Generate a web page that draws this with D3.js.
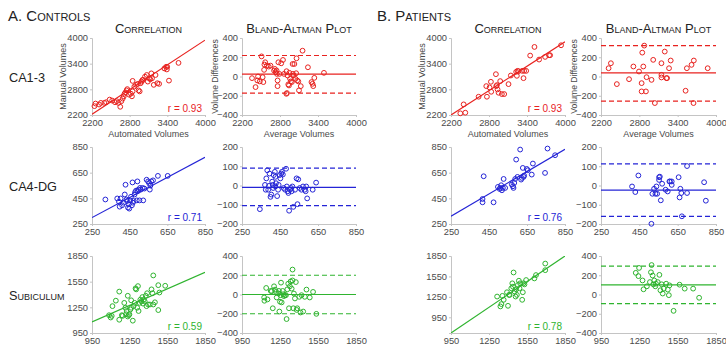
<!DOCTYPE html>
<html>
<head>
<meta charset="utf-8">
<script src="https://cdn.jsdelivr.net/npm/d3@7"></script>
<style>
  body { margin: 0; background: #fff; }
  svg { font-family: "Liberation Sans", Arial, sans-serif; }
  .tick text { fill: #4a4a4a; font-size: 9.3px; }
  .domain, .tick line { stroke: #c4c4c4; }
</style>
</head>
<body>
<svg id="chart" width="726" height="346"></svg>
<script>
// --- data ---
const groups = ['A. Controls', 'B. Patients'];
const regions = ['CA1-3', 'CA4-DG', 'Subiculum'];
const corrTicks = [[2200, 2800, 3400, 4000], [250, 450, 650, 850], [950, 1250, 1550, 1850]];
const baTicks = [[-400, -200, 0, 200, 400], [-200, -100, 0, 100, 200], [-400, -200, 0, 200, 400]];
const rValues = [[0.93, 0.93], [0.71, 0.76], [0.59, 0.78]];
// fitted line end points [x0, y0, x1, y1]
const fitLines = [
  [[2200, 2220, 4000, 3950], [2200, 2200, 4000, 3910]],
  [[250, 300, 850, 770], [250, 310, 850, 832]],
  [[950, 1080, 1850, 1660], [950, 720, 1850, 1850]]
];
const baMean = [[25, 38], [-10, -24], [0, 100]];
const baUpper = [[218, 320], [90, 112], [200, 295]];
const baLower = [[-172, -255], [-105, -160], [-200, -95]];

const ctrlCA13Corr = [[2239,2407],[2256,2468],[2312,2445],[2341,2483],[2397,2483],[2425,2499],[2481,2560],[2521,2537],[2566,2499],[2594,2522],[2622,2483],[2650,2392],[2667,2522],[2689,2583],[2706,2637],[2718,2698],[2734,2729],[2751,2775],[2762,2805],[2791,2675],[2819,2698],[2836,2637],[2847,2752],[2847,2997],[2875,2866],[2903,2905],[2931,2928],[2942,2775],[2959,2752],[2976,2943],[2987,2981],[3004,3020],[3016,3020],[3044,3096],[3072,3135],[3089,2981],[3111,3058],[3128,3035],[3145,3173],[3156,3058],[3184,2905],[3212,3135],[3241,2943],[3269,2928],[3353,3288],[3381,3326],[3392,3265],[3398,3326],[3426,3004],[3578,3418]];
const ctrlCA13BA = [[2358,-17],[2414,-110],[2442,-41],[2453,0],[2481,-51],[2509,209],[2526,-7],[2537,-58],[2549,69],[2554,124],[2566,148],[2594,113],[2622,103],[2650,113],[2706,62],[2718,79],[2734,45],[2746,62],[2751,27],[2762,-41],[2762,-100],[2774,148],[2791,27],[2819,137],[2847,172],[2864,27],[2903,55],[2920,10],[2931,-82],[2942,-93],[2948,38],[2959,-24],[2971,-51],[2987,-58],[2999,130],[3004,27],[3016,10],[3027,130],[3044,-24],[3055,34],[3061,189],[3072,-41],[3089,-51],[3100,-144],[3128,-100],[3156,268],[3241,96],[3297,-58],[3314,-76],[3325,-100],[3342,-14],[3494,38],[2900,-180],[2910,-172]];
const patCA13Corr = [[2347,2239],[2400,2448],[2426,2254],[2636,2627],[2767,2627],[2757,2875],[2809,2844],[2830,2976],[2835,2743],[2909,3154],[2914,2875],[2925,2898],[2935,2798],[2951,2720],[2977,2992],[3003,2689],[3040,2689],[3108,2922],[3145,3123],[3229,3209],[3240,3116],[3250,3232],[3266,3224],[3324,3232],[3345,3061],[3355,3232],[3387,3232],[3450,3589],[3518,3791],[3591,3496],[3686,3558],[3749,3597],[3765,3597],[3938,3830]];
const patCA13BA = [[2319,86],[2355,138],[2448,-79],[2639,-28],[2707,104],[2795,52],[2836,-155],[2836,-69],[2846,248],[2862,104],[2877,321],[2903,-155],[2913,-7],[2991,-35],[3017,173],[3043,-276],[3146,138],[3146,17],[3146,-10],[3198,259],[3224,-17],[3234,-17],[3265,86],[3291,166],[3524,-148],[3544,86],[3617,121],[3648,-276],[3653,166],[3870,86]];
const ctrlCA4Corr = [[321,441],[384,449],[393,424],[397,385],[402,449],[410,396],[419,416],[424,480],[428,556],[433,441],[436,429],[441,378],[445,403],[448,370],[453,434],[457,462],[462,396],[465,574],[467,416],[471,429],[476,480],[479,498],[484,510],[488,434],[491,582],[493,505],[497,518],[502,434],[505,531],[509,518],[519,531],[522,434],[528,526],[540,595],[553,569],[557,518],[560,549],[565,582],[574,590],[600,625],[652,625],[548,582]];
const ctrlCA4BA = [[344,-123],[371,3],[375,-22],[378,37],[383,79],[388,-22],[392,-2],[395,62],[400,-59],[404,-47],[409,20],[412,3],[414,-13],[417,54],[423,71],[426,45],[426,-5],[429,12],[435,-55],[440,-22],[443,3],[448,54],[452,37],[457,62],[460,71],[465,57],[469,-13],[477,-22],[482,87],[486,-5],[491,-30],[494,-39],[498,-131],[503,-22],[508,-13],[511,-30],[515,-5],[520,-111],[529,-22],[537,37],[542,-97],[546,32],[554,-13],[563,-22],[571,-5],[580,-22],[585,-30],[588,-5],[593,-67],[622,-22],[640,15]];
const patCA4Corr = [[416,445],[416,419],[422,622],[474,419],[497,539],[506,523],[509,531],[514,552],[518,513],[523,531],[527,601],[535,531],[570,557],[576,544],[579,531],[583,570],[588,601],[593,752],[600,617],[614,830],[619,596],[623,609],[628,687],[632,617],[635,627],[649,679],[654,669],[675,635],[681,721],[745,648],[758,838],[798,786]];
const patCA4BA = [[412,-5],[429,-34],[445,52],[518,-43],[527,-17],[534,-43],[539,-5],[543,-43],[553,29],[553,43],[557,46],[562,-77],[569,9],[587,-22],[598,-31],[607,21],[610,21],[619,3],[619,21],[655,43],[660,-62],[664,-17],[669,-39],[672,-160],[699,-39],[699,101],[788,17],[797,-79],[513,-199]];
const ctrlSubCorr = [[1086,1158],[1099,1131],[1107,1150],[1113,1264],[1140,1328],[1167,1434],[1167,1105],[1188,1158],[1194,1150],[1207,1302],[1216,1245],[1221,1169],[1226,1207],[1235,1385],[1235,1143],[1243,1158],[1248,1169],[1256,1226],[1262,1245],[1262,1332],[1275,1094],[1281,1264],[1289,1302],[1297,1472],[1302,1460],[1310,1245],[1316,1498],[1321,1207],[1329,1302],[1335,1339],[1343,1320],[1351,1370],[1356,1294],[1362,1339],[1370,1320],[1378,1385],[1384,1264],[1389,1415],[1397,1283],[1411,1283],[1424,1460],[1432,1415],[1438,1283],[1438,1623],[1451,1309],[1478,1509],[1478,1218],[1487,1423],[1533,1502]];
const ctrlSubBA = [[1125,-31],[1127,-65],[1141,68],[1151,-51],[1177,37],[1185,34],[1193,-143],[1203,85],[1211,51],[1219,27],[1224,-31],[1237,10],[1242,37],[1245,-177],[1250,-75],[1255,-7],[1258,123],[1263,-82],[1271,37],[1276,3],[1281,-17],[1289,-7],[1297,-7],[1302,-255],[1308,54],[1315,112],[1321,-143],[1328,85],[1334,136],[1342,61],[1349,146],[1349,259],[1355,-143],[1360,10],[1368,-41],[1375,129],[1381,-160],[1386,-143],[1402,-24],[1412,-187],[1420,-7],[1433,-177],[1446,-24],[1459,51],[1485,-31],[1511,27],[1537,-201]];
const patSubCorr = [[1314,1255],[1340,1110],[1348,1144],[1356,1265],[1366,1207],[1392,1318],[1400,1119],[1408,1279],[1413,1279],[1426,1376],[1434,1449],[1439,1400],[1444,1608],[1452,1328],[1460,1255],[1465,1361],[1470,1279],[1478,1424],[1486,1487],[1491,1376],[1496,1449],[1512,1207],[1517,1318],[1522,1449],[1530,1434],[1543,1497],[1608,1521],[1621,1570],[1694,1739],[1694,1642]];
const patSubBA = [[1222,225],[1243,191],[1275,146],[1283,54],[1309,85],[1333,129],[1341,231],[1346,306],[1354,197],[1359,106],[1367,146],[1375,85],[1380,112],[1394,129],[1407,204],[1415,44],[1425,106],[1433,10],[1441,61],[1460,112],[1473,51],[1481,-7],[1486,95],[1518,-170],[1565,102],[1605,61],[1671,61],[1718,-34],[1248,276]];

const corrData = [[ctrlCA13Corr, patCA13Corr], [ctrlCA4Corr, patCA4Corr], [ctrlSubCorr, patSubCorr]];
const baData = [[ctrlCA13BA, patCA13BA], [ctrlCA4BA, patCA4BA], [ctrlSubBA, patSubBA]];
const rowColors = ['#e8221f', '#2424d6', '#2fb42f'];

// --- layout ---
const colCorr = [[92, 205], [451, 565]];
const colBA = [[242, 356], [601, 716]];
const rowY = [[38, 115], [147, 224], [256, 333]];
const corrYLow = [[2200, 2200], [250, 250], [950, 720]];

const svg = d3.select('#chart');

function drawAxes(g, x, y, xt, yt) {
  g.append('g').attr('transform', `translate(0,${y.range()[0]})`)
    .call(d3.axisBottom(x).tickValues(xt).tickSize(2).tickPadding(2).tickFormat(d3.format('d')));
  g.append('g').attr('transform', `translate(${x.range()[0]},0)`)
    .call(d3.axisLeft(y).tickValues(yt).tickSize(2).tickPadding(2).tickFormat(d3.format('d')));
}

function dots(g, pts, x, y, color) {
  g.selectAll('circle.pt').data(pts).join('circle')
    .attr('class', 'pt')
    .attr('cx', d => x(d[0])).attr('cy', d => y(d[1]))
    .attr('r', 2.4).attr('fill', 'none')
    .attr('stroke', color).attr('stroke-width', 1);
}

let clipN = 0;
regions.forEach((region, ri) => {
  const color = rowColors[ri];
  groups.forEach((grp, gi) => {
    // correlation panel
    const cx = d3.scaleLinear().domain([corrTicks[ri][0], corrTicks[ri][3]]).range(colCorr[gi]);
    const cy = d3.scaleLinear().domain([corrYLow[ri][gi], corrTicks[ri][3]]).range([rowY[ri][1], rowY[ri][0]]);
    const gc = svg.append('g');
    drawAxes(gc, cx, cy, corrTicks[ri], corrTicks[ri]);
    const id = 'clip' + (clipN++);
    svg.append('clipPath').attr('id', id).append('rect')
      .attr('x', colCorr[gi][0]).attr('y', rowY[ri][0])
      .attr('width', colCorr[gi][1] - colCorr[gi][0]).attr('height', rowY[ri][1] - rowY[ri][0]);
    const fl = fitLines[ri][gi];
    gc.append('line').attr('clip-path', `url(#${id})`)
      .attr('x1', cx(fl[0])).attr('y1', cy(fl[1])).attr('x2', cx(fl[2])).attr('y2', cy(fl[3]))
      .attr('stroke', color).attr('stroke-width', 1.2);
    dots(gc, corrData[ri][gi], cx, cy, color);
    gc.append('text').attr('x', colCorr[gi][1] - 3).attr('y', rowY[ri][1] - 3)
      .attr('text-anchor', 'end').attr('font-size', 10).attr('fill', color)
      .text('r = ' + rValues[ri][gi].toFixed(2));

    // Bland-Altman panel
    const bx = d3.scaleLinear().domain([corrTicks[ri][0], corrTicks[ri][3]]).range(colBA[gi]);
    const by = d3.scaleLinear().domain([baTicks[ri][0], baTicks[ri][4]]).range([rowY[ri][1], rowY[ri][0]]);
    const gb = svg.append('g');
    drawAxes(gb, bx, by, corrTicks[ri], baTicks[ri]);
    [[baMean, null], [baUpper, '5,3'], [baLower, '5,3']].forEach(([arr, dash]) => {
      gb.append('line')
        .attr('x1', colBA[gi][0]).attr('x2', colBA[gi][1])
        .attr('y1', by(arr[ri][gi])).attr('y2', by(arr[ri][gi]))
        .attr('stroke', color).attr('stroke-width', 1.2)
        .attr('stroke-dasharray', dash);
    });
    dots(gb, baData[ri][gi], bx, by, color);

    if (ri === 0) {
      svg.append('text').attr('x', (colCorr[gi][0] + colCorr[gi][1]) / 2).attr('y', 33)
        .attr('text-anchor', 'middle').attr('font-size', 13).attr('fill', '#222')
        .style('font-variant', 'small-caps').text('Correlation');
      svg.append('text').attr('x', (colBA[gi][0] + colBA[gi][1]) / 2).attr('y', 33)
        .attr('text-anchor', 'middle').attr('font-size', 13).attr('fill', '#222')
        .style('font-variant', 'small-caps').text('Bland-Altman Plot');
      svg.append('text').attr('x', (colCorr[gi][0] + colCorr[gi][1]) / 2).attr('y', 137)
        .attr('text-anchor', 'middle').attr('font-size', 9).attr('fill', '#4a4a4a')
        .text('Automated Volumes');
      svg.append('text').attr('x', (colBA[gi][0] + colBA[gi][1]) / 2).attr('y', 137)
        .attr('text-anchor', 'middle').attr('font-size', 9).attr('fill', '#4a4a4a')
        .text('Average Volumes');
      const midY = (rowY[0][0] + rowY[0][1]) / 2;
      svg.append('text').attr('transform', `translate(${colCorr[gi][0] - 26},${midY}) rotate(-90)`)
        .attr('text-anchor', 'middle').attr('font-size', 9).attr('fill', '#4a4a4a')
        .text('Manual Volumes');
      svg.append('text').attr('transform', `translate(${colBA[gi][0] - 24},${midY}) rotate(-90)`)
        .attr('text-anchor', 'middle').attr('font-size', 8.6).attr('fill', '#4a4a4a')
        .text('Volume Differences');
    }
  });
  svg.append('text').attr('x', 9).attr('y', (rowY[ri][0] + rowY[ri][1]) / 2 + 5)
    .attr('font-size', 12.7).attr('fill', '#222')
    .style('font-variant', ri === 2 ? 'small-caps' : 'normal')
    .text(region);
});

groups.forEach((grp, gi) => {
  svg.append('text').attr('x', gi === 0 ? 8 : 377).attr('y', 21)
    .attr('font-size', 15).attr('fill', '#222')
    .style('font-variant', 'small-caps').text(grp);
});
</script>
</body>
</html>
